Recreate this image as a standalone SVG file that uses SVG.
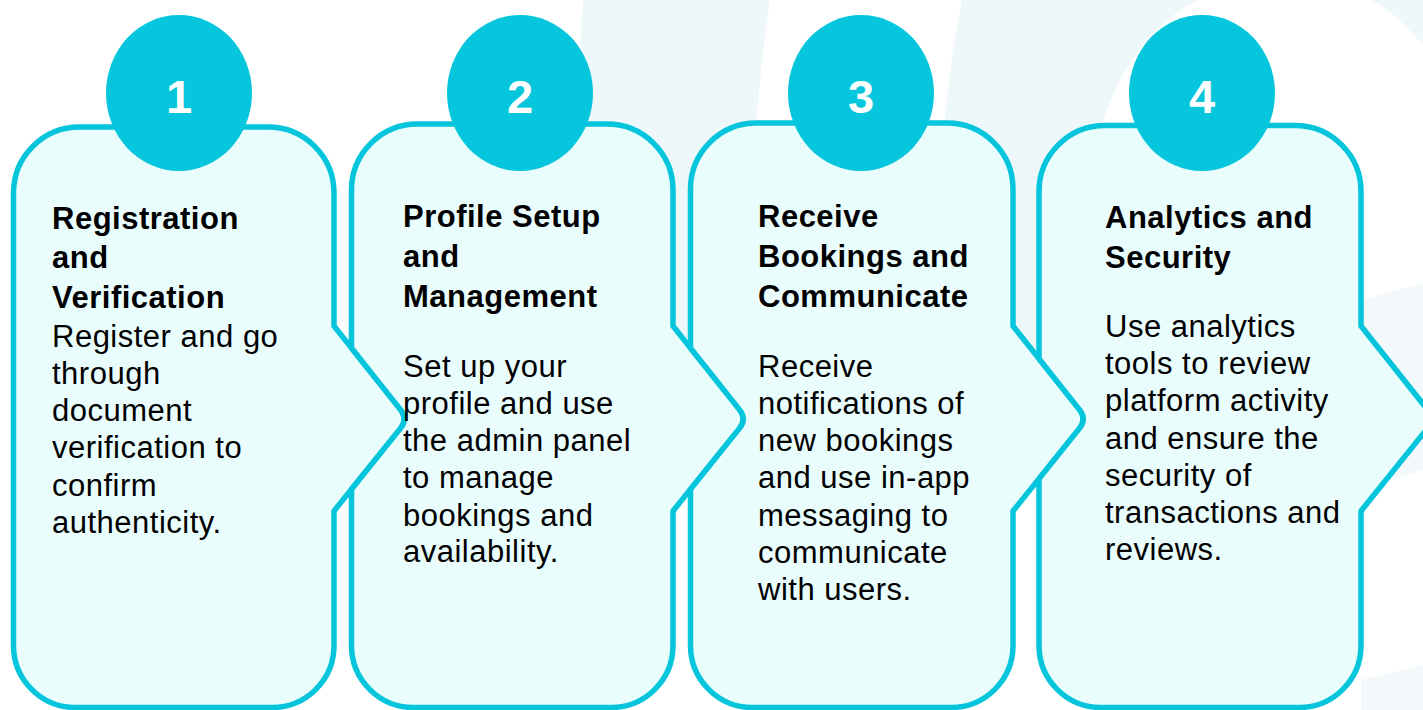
<svg xmlns="http://www.w3.org/2000/svg" width="1423" height="710" viewBox="0 0 1423 710">
<style>
.bg{fill:#eef8fb}
.bg2{fill:#f3f8fa}
.box{fill:#eafdfd;stroke:#05c5dc;stroke-width:5.5;stroke-linejoin:round}
.badge{fill:#05c6dc}
.num{font-family:"Liberation Sans",Arial,sans-serif;font-weight:bold;font-size:47px;fill:#ffffff;text-anchor:middle}
.title{font-family:"Liberation Sans",Arial,sans-serif;font-weight:bold;font-size:31px;letter-spacing:0.5px;fill:#000000}
.body{font-family:"Liberation Sans",Arial,sans-serif;font-size:31px;letter-spacing:0.5px;fill:#000000}
</style>
<rect width="1423" height="710" fill="#ffffff"/>
<g id="background">
<path class="bg" d="M583,0 H770 C758,80 748,200 745,400 L575,400 C576,200 578,80 583,0 Z"/>
<path class="bg" d="M962,0 H1198 C1140,30 1105,90 1095,160 L1090,400 L930,400 C935,200 945,80 962,0 Z"/>
<path class="bg" d="M1372,0 H1423 V45 C1405,25 1390,10 1372,0 Z"/>
<path class="bg2" d="M1361,300 L1423,283 L1423,470 L1361,490 Z"/>
<path class="bg2" d="M1361,680 L1423,665 L1423,710 L1361,710 Z"/>
</g>
<g id="connectors"></g>
<g id="node-1">
<path class="box" d="M79.5,127 H268 A66,66 0 0 1 334,193 V326 L400.5,409.65 Q408,419 400.5,428.35 L334,511 V645.5 A62,62 0 0 1 272,707.5 H75.5 A62,62 0 0 1 13.5,645.5 V193 A66,66 0 0 1 79.5,127 Z"/>
<ellipse class="badge" cx="179" cy="93" rx="73" ry="78"/>
<text class="num" x="179" y="113">1</text>
<text class="title" x="52" y="229">Registration</text>
<text class="title" x="52" y="268">and</text>
<text class="title" x="52" y="308">Verification</text>
<text class="body" x="52" y="347">Register and go</text>
<text class="body" x="52" y="384">through</text>
<text class="body" x="52" y="421">document</text>
<text class="body" x="52" y="458">verification to</text>
<text class="body" x="52" y="496">confirm</text>
<text class="body" x="52" y="533">authenticity.</text>
</g>
<g id="node-2">
<path class="box" d="M417.5,124 H607 A66,66 0 0 1 673,190 V326 L739.5,409.65 Q747,419 739.5,428.35 L673,511 V645.5 A62,62 0 0 1 611,707.5 H413.5 A62,62 0 0 1 351.5,645.5 V489.25 L400.5,428.35 Q408,419 400.5,409.65 L351.5,348 V190 A66,66 0 0 1 417.5,124 Z"/>
<ellipse class="badge" cx="520" cy="93" rx="73" ry="78"/>
<text class="num" x="520" y="113">2</text>
<text class="title" x="403" y="227">Profile Setup</text>
<text class="title" x="403" y="267">and</text>
<text class="title" x="403" y="307">Management</text>
<text class="body" x="403" y="377">Set up your</text>
<text class="body" x="403" y="414">profile and use</text>
<text class="body" x="403" y="451">the admin panel</text>
<text class="body" x="403" y="488">to manage</text>
<text class="body" x="403" y="526">bookings and</text>
<text class="body" x="403" y="562">availability.</text>
</g>
<g id="node-3">
<path class="box" d="M756.5,123 H947 A66,66 0 0 1 1013,189 V326 L1079.5,409.65 Q1087,419 1079.5,428.35 L1013,511 V645.5 A62,62 0 0 1 951,707.5 H752.5 A62,62 0 0 1 690.5,645.5 V489.25 L739.5,428.35 Q747,419 739.5,409.65 L690.5,348 V189 A66,66 0 0 1 756.5,123 Z"/>
<ellipse class="badge" cx="861" cy="93" rx="73" ry="78"/>
<text class="num" x="861" y="113">3</text>
<text class="title" x="758" y="227">Receive</text>
<text class="title" x="758" y="267">Bookings and</text>
<text class="title" x="758" y="307">Communicate</text>
<text class="body" x="758" y="377">Receive</text>
<text class="body" x="758" y="414">notifications of</text>
<text class="body" x="758" y="451">new bookings</text>
<text class="body" x="758" y="488">and use in-app</text>
<text class="body" x="758" y="526">messaging to</text>
<text class="body" x="758" y="563">communicate</text>
<text class="body" x="758" y="600">with users.</text>
</g>
<g id="node-4">
<path class="box" d="M1105,125.5 H1295 A66,66 0 0 1 1361,191.5 V326 L1427.5,409.65 Q1435,419 1427.5,428.35 L1361,511 V645.5 A62,62 0 0 1 1299,707.5 H1101 A62,62 0 0 1 1039,645.5 V478.7 L1079.5,428.35 Q1087,419 1079.5,409.65 L1039,358.7 V191.5 A66,66 0 0 1 1105,125.5 Z"/>
<ellipse class="badge" cx="1202" cy="93" rx="73" ry="78"/>
<text class="num" x="1202" y="113">4</text>
<text class="title" x="1105" y="228">Analytics and</text>
<text class="title" x="1105" y="268">Security</text>
<text class="body" x="1105" y="337">Use analytics</text>
<text class="body" x="1105" y="374">tools to review</text>
<text class="body" x="1105" y="411">platform activity</text>
<text class="body" x="1105" y="449">and ensure the</text>
<text class="body" x="1105" y="486">security of</text>
<text class="body" x="1105" y="523">transactions and</text>
<text class="body" x="1105" y="560">reviews.</text>
</g>
</svg>
